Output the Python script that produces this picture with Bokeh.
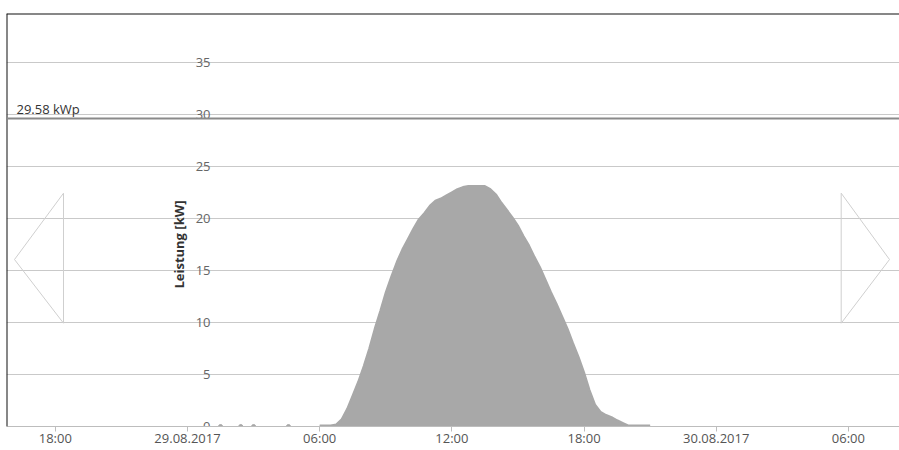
from math import pi
from bokeh.plotting import figure
from bokeh.models import Span, Grid, FixedTicker, ColumnDataSource
from bokeh.core.properties import value
from bokeh.embed import file_html
from bokeh.resources import INLINE

# ---------------- data (hours relative to 29.08.2017 00:00) ----------------
power_times = ["06:00", "06:15", "06:30", "06:45", "07:00", "07:15", "07:30", "07:45",
               "08:00", "08:15", "08:30", "08:45", "09:00", "09:15", "09:30", "09:45",
               "10:00", "10:15", "10:30", "10:45", "11:00", "11:15", "11:30", "11:45",
               "12:00", "12:15", "12:30", "12:45", "13:00", "13:15", "13:30", "13:45",
               "14:00", "14:15", "14:30", "14:45", "15:00", "15:15", "15:30", "15:45",
               "16:00", "16:15", "16:30", "16:45", "17:00", "17:15", "17:30", "17:45",
               "18:00", "18:15", "18:30", "18:45", "19:00", "19:15", "19:30", "19:45",
               "20:00", "20:15", "20:30", "20:45", "21:00"]
power_kw = [0.1, 0.1, 0.1, 0.2, 0.7, 1.7, 3.0, 4.3,
            5.8, 7.5, 9.4, 11.1, 12.9, 14.4, 15.8, 17.0,
            18.0, 19.0, 19.9, 20.5, 21.2, 21.7, 21.9, 22.2,
            22.5, 22.8, 23.0, 23.1, 23.1, 23.1, 23.1, 22.8,
            22.3, 21.5, 20.8, 20.1, 19.3, 18.3, 17.4, 16.3,
            15.3, 14.1, 12.9, 11.8, 10.6, 9.4, 8.0, 6.7,
            5.2, 3.5, 2.1, 1.4, 1.1, 0.9, 0.6, 0.35,
            0.1, 0.1, 0.1, 0.1, 0.1]
single_times = ["01:30", "02:25", "03:00", "04:35"]
single_kw = [0.0, 0.0, 0.0, 0.0]

peak_kwp = 29.58
peak_label = "29.58 kWp"

x_ticks = [-6, 0, 6, 12, 18, 24, 30]
x_tick_labels = ["18:00", "29.08.2017", "06:00", "12:00", "18:00", "30.08.2017", "06:00"]
y_ticks = [0, 5, 10, 15, 20, 25, 30, 35]
y_title = "Leistung [kW]"


def to_hours(s):
    h, m = s.split(":")
    return int(h) + int(m) / 60.0


px_per_h = 22.03
px_per_kw = 10.41
x0_px = 187.0   # page x of 29.08 00:00
y0_px = 426.0   # page y of 0 kW


def px_x(px):
    return (px - x0_px) / px_per_h


def px_y(py):
    return (y0_px - py) / px_per_kw


W, H = 899, 450
FL, FT, FB = 6, 13, 24
x_start, x_end = px_x(FL), px_x(W)
y_start, y_end = 0, px_y(FT)

p = figure(width=W, height=H, output_backend="svg", toolbar_location=None,
           x_range=(x_start, x_end), y_range=(y_start, y_end),
           y_axis_location=None, min_border_left=FL, min_border_right=0,
           min_border_top=FT, min_border_bottom=FB)
p.outline_line_color = None
p.background_fill_color = "white"
p.border_fill_color = "white"
p.xgrid.visible = False
for g in list(p.ygrid):
    g.visible = False

grid = Grid(dimension=1, ticker=FixedTicker(ticks=y_ticks),
            grid_line_color="#c9c9c9", grid_line_width=1)
p.add_layout(grid)

# frame border (top and left)
p.add_layout(Span(location=y_end, dimension="width", line_color="#111111", line_width=2))
p.add_layout(Span(location=x_start, dimension="height", line_color="#111111", line_width=2))

# x axis
ax = p.xaxis[0]
ax.ticker = FixedTicker(ticks=x_ticks)
ax.major_label_overrides = {t: lab for t, lab in zip(x_ticks, x_tick_labels)}
ax.axis_line_color = "#bdbdbd"
ax.major_tick_line_color = "#bdbdbd"
ax.major_tick_in = 0
ax.major_tick_out = 5
ax.minor_tick_line_color = None
ax.major_label_text_font = "Open Sans"
ax.major_label_text_font_size = "13px"
ax.major_label_text_color = "#555555"
ax.major_label_standoff = -3

# area series
xs = [to_hours(t) for t in power_times]
src = ColumnDataSource(dict(x=xs, y=power_kw))
p.varea(x="x", y1=0, y2="y", source=src, fill_color="#a8a8a8")
p.line(x="x", y="y", source=src, line_color="#a8a8a8", line_width=2)

sx = [to_hours(t) for t in single_times]
p.scatter(sx, single_kw, size=4, fill_color="#a8a8a8", line_color="#a8a8a8")

# installed peak power line
p.add_layout(Span(location=peak_kwp, dimension="width",
                  line_color="#8a8a8a", line_width=2))
p.text([px_x(16)], [px_y(108)], text=[peak_label], text_font=value("Open Sans"),
       text_font_size="13px", text_color="#333333", text_baseline="alphabetic",
       text_align="left")

# y tick labels drawn inside the plot
p.text([px_x(210)] * len(y_ticks), y_ticks, text=[str(v) for v in y_ticks],
       text_font=value("Open Sans"), text_font_size="13px", text_color="#666666",
       text_align="right", text_baseline="middle")

# y axis title
p.text([px_x(178)], [px_y(244)], text=[y_title], angle=pi / 2,
       text_font=value("Open Sans"), text_font_size="13px", text_font_style="bold",
       text_color="#333333", text_align="center", text_baseline="middle")

# navigation arrows
left_arrow_x = [px_x(63), px_x(14), px_x(63)]
right_arrow_x = [px_x(840.7), px_x(889), px_x(840.7)]
arrow_y = [px_y(192.7), px_y(259), px_y(322.7)]
p.patch(left_arrow_x, arrow_y, fill_color=None, line_color="#cfcfcf", line_width=1)
p.patch(right_arrow_x, arrow_y, fill_color=None, line_color="#cfcfcf", line_width=1)

open("out.html", "w").write(file_html(p, INLINE))
